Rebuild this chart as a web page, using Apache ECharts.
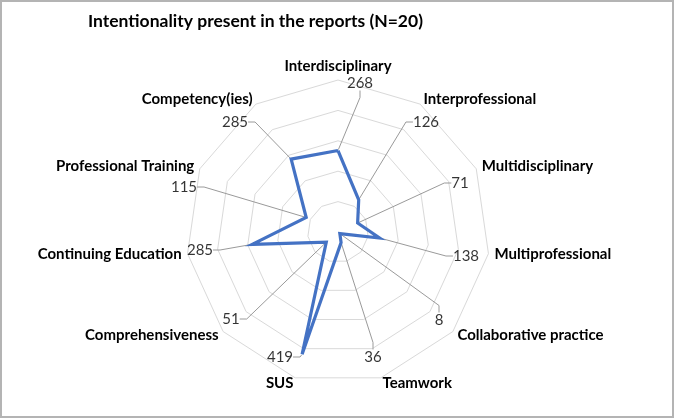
<!DOCTYPE html>
<html>
<head>
<meta charset="utf-8">
<script src="https://cdn.jsdelivr.net/npm/echarts@6/dist/echarts.min.js"></script>
<style>
  html, body { margin: 0; padding: 0; background: #fff; }
  #chart { position: absolute; left: 0; top: 0; width: 676px; height: 420px; }
  #frame { position: absolute; left: 0; top: 0; width: 674px; height: 418px; box-sizing: border-box;
           border: 2px solid #b4b4b4; pointer-events: none; }
</style>
</head>
<body>
<div id="chart"></div>
<div id="frame"></div>
<script>
// ---- data ----
const categories = ['Interdisciplinary', 'Interprofessional', 'Multidisciplinary', 'Multiprofessional',
  'Collaborative practice', 'Teamwork', 'SUS', 'Comprehensiveness', 'Continuing Education',
  'Professional Training', 'Competency(ies)'];
const counts = [268, 126, 71, 138, 8, 36, 419, 51, 285, 115, 285];
const axisMax = 500;
const titleText = 'Intentionality present in the reports (N=20)';

// ---- layout (label positions, px, matching the reference) ----
const labelPos = [[360, 83], [426, 122], [460, 183], [466, 256], [439, 320], [373, 357],
  [280, 357], [231, 319], [200, 250], [184, 187], [235, 122]];

const center = [338, 232];
const radius = 152;
const FONT = 'Lato, "Open Sans", sans-serif';

// radar indicators run counter-clockwise, so reorder to get clockwise layout
const order = [0].concat(categories.map((_, i) => i).slice(1).reverse());

const chart = echarts.init(document.getElementById('chart'), null, { renderer: 'canvas' });
chart.setOption({
  animation: false,
  backgroundColor: '#fff',
  title: {
    text: titleText, left: 83, top: 7,
    textStyle: { fontFamily: FONT, fontSize: 17.5, fontWeight: 'bold', color: '#000' }
  },
  radar: {
    center: center, radius: radius, startAngle: 90, shape: 'polygon', splitNumber: 5,
    indicator: order.map(i => ({ name: categories[i], max: axisMax, min: 0 })),
    axisName: { color: '#000', fontFamily: FONT, fontSize: 15, fontWeight: 'bold' },
    nameGap: 6,
    axisLine: { show: false }, axisTick: { show: false }, axisLabel: { show: false },
    splitLine: { lineStyle: { color: '#d9d9d9', width: 1 } },
    splitArea: { show: false }
  },
  polar: { center: center, radius: radius },
  angleAxis: { type: 'value', min: 0, max: categories.length, startAngle: 90, clockwise: true, show: false },
  radiusAxis: { type: 'value', min: 0, max: axisMax, show: false },
  series: [
    {
      type: 'scatter', coordinateSystem: 'polar', z: 1,
      data: counts.map((v, i) => [v, i]),
      symbol: 'circle', symbolSize: 2,
      itemStyle: { color: 'rgba(0,0,0,0)' },
      label: {
        show: true, formatter: p => String(p.value[0]),
        color: '#000', fontFamily: FONT, fontSize: 15, padding: [0, 2]
      },
      labelLine: { show: true, length2: 7, lineStyle: { color: '#9a9a9a', width: 1 } },
      labelLayout: p => ({ x: labelPos[p.dataIndex][0], y: labelPos[p.dataIndex][1], align: 'center', verticalAlign: 'middle' })
    },
    {
      type: 'radar', z: 3,
      symbol: 'none',
      lineStyle: { color: '#4472c4', width: 3.2, join: 'miter' },
      data: [{ value: order.map(i => counts[i]), name: 'Count' }]
    }
  ]
});
</script>
</body>
</html>
